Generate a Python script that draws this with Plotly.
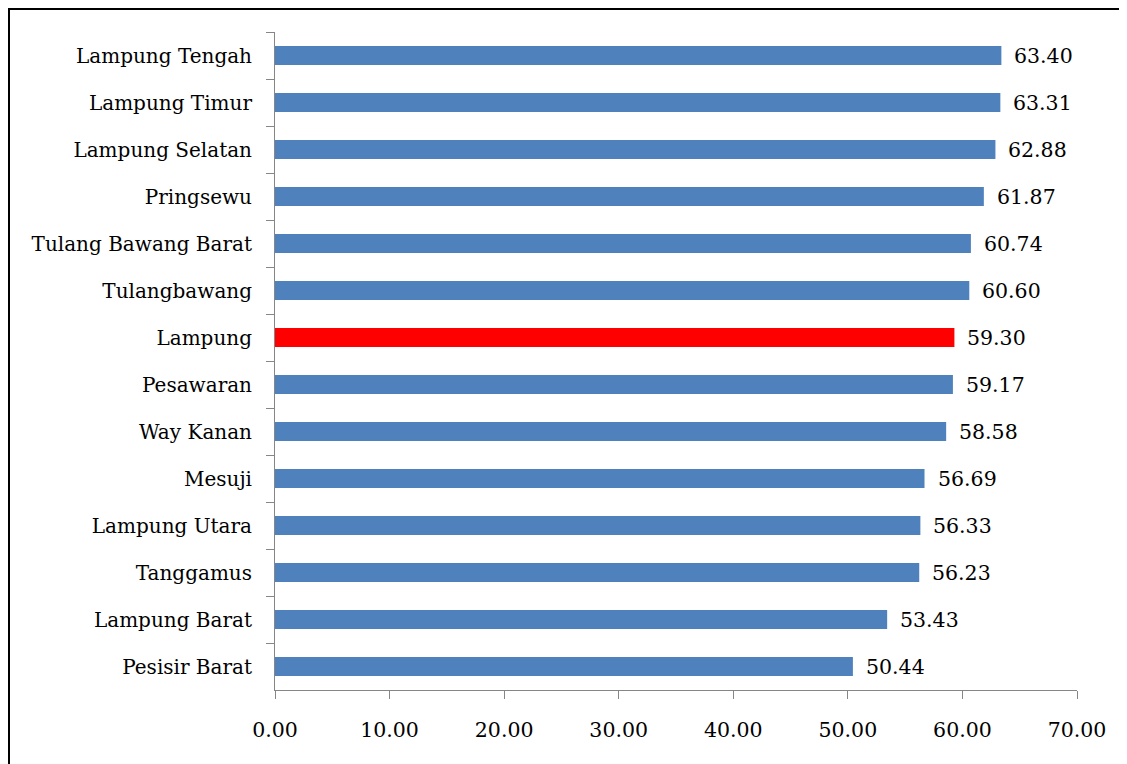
import plotly.graph_objects as go

regions = ["Lampung Tengah", "Lampung Timur", "Lampung Selatan", "Pringsewu",
           "Tulang Bawang Barat", "Tulangbawang", "Lampung", "Pesawaran",
           "Way Kanan", "Mesuji", "Lampung Utara", "Tanggamus",
           "Lampung Barat", "Pesisir Barat"]
values = [63.40, 63.31, 62.88, 61.87, 60.74, 60.60, 59.30, 59.17,
          58.58, 56.69, 56.33, 56.23, 53.43, 50.44]
tick_vals = [0, 10, 20, 30, 40, 50, 60, 70]

colors = ["#FF0000" if r == "Lampung" else "#4F81BD" for r in regions]

# page has an 8px body margin; figure is placed at (8, 8)
OFF = 8
W, H = 1127 - OFF, 764 - OFF
ml, mr, mt, mb = 275 - OFF, 50, 32 - OFF, 74

fig = go.Figure(go.Bar(
    y=regions, x=values, orientation="h",
    marker=dict(color=colors, line=dict(width=0)),
    hoverinfo="x+y",
))

font = dict(family="DejaVu Serif", size=20, color="black")
numfont = dict(family="DejaVu Serif", size=20.5, color="black")

for r, v in zip(regions, values):
    fig.add_annotation(x=v, y=r, xref="x", yref="y", text=f"{v:.2f}",
                       showarrow=False, xanchor="left", yanchor="middle",
                       xshift=11, font=numfont)

fig.update_layout(
    width=W, height=H,
    margin=dict(l=ml, r=mr, t=mt, b=mb),
    paper_bgcolor="white", plot_bgcolor="white",
    bargap=0.6, showlegend=False,
    font=font,
    xaxis=dict(range=[0, 70], tickvals=tick_vals,
               ticktext=[f"{t:.2f}" for t in tick_vals],
               showgrid=False, zeroline=False, showline=True,
               linecolor="#868686", linewidth=1,
               ticks="outside", ticklen=8, tickcolor="#868686",
               ticklabelstandoff=13, tickfont=numfont),
    yaxis=dict(autorange="reversed", showgrid=False, zeroline=False,
               showline=True, linecolor="#868686", linewidth=1,
               ticks="outside", ticklen=8, tickcolor="#868686",
               tickson="boundaries", ticklabelstandoff=18, tickfont=font),
)

pw, ph = W - ml - mr, H - mt - mb
fig.add_shape(type="rect", xref="paper", yref="paper",
              x0=(1 - ml) / pw, x1=(W + 20 - ml) / pw,
              y0=(ph + mt - (H + 20)) / ph, y1=(ph + mt - 1) / ph,
              line=dict(color="black", width=2), fillcolor="rgba(0,0,0,0)",
              layer="below")

fig.write_html("out.html")
